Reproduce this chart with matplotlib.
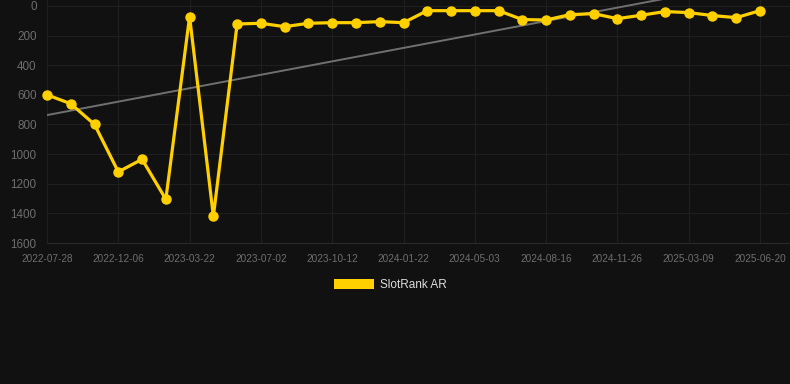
"""SlotRank AR rank history chart."""

import matplotlib

matplotlib.use("Agg")
import matplotlib.pyplot as plt
import numpy as np
from matplotlib.patches import Patch

TICK_LABELS = [
    "2022-07-28", "2022-12-06", "2023-03-22", "2023-07-02", "2023-10-12",
    "2024-01-22", "2024-05-03", "2024-08-16", "2024-11-26", "2025-03-09",
    "2025-06-20",
]
RANKS = [
    600, 660, 800, 1120, 1035, 1305, 72, 1420, 122, 117, 140,
    117, 113, 113, 106, 113, 32, 32, 32, 32, 92,
    95, 59, 52, 86, 63, 38, 45, 65, 79, 32,
]
SERIES_LABEL = "SlotRank AR"

BG = "#111111"
GRID = "#1f1f1f"
YELLOW = "#FFD000"
TREND = "#707070"
TICK_COLOR = "#6e6e6e"

plt.rcParams["font.family"] = ["Liberation Sans", "DejaVu Sans"]


def main():
    x = np.arange(len(RANKS))
    slope, intercept = np.polyfit(x, RANKS, 1)

    fig = plt.figure(figsize=(7.9, 3.84), dpi=100, facecolor=BG)
    ax = fig.add_axes([47 / 790, 1 - 243 / 384, 1 - 47 / 790, 243 / 384])
    ax.set_facecolor(BG)

    ax.plot(x, slope * x + intercept, color=TREND, linewidth=1.4, zorder=2)
    ax.plot(
        x, RANKS, color=YELLOW, linewidth=2.3, marker="o", markersize=6.5,
        solid_joinstyle="miter", zorder=3, clip_on=False,
    )

    ax.set_xlim(0, (790 - 47) / (713 / 30))
    ax.set_ylim(1600, -40)
    ax.set_yticks(range(0, 1601, 200))
    ax.set_xticks(range(0, len(RANKS), 3), TICK_LABELS)

    ax.grid(color=GRID, linewidth=0.8)
    for side, spine in ax.spines.items():
        spine.set_visible(side == "bottom")
    ax.spines["bottom"].set_color("#2a2a2a")
    ax.tick_params(axis="both", length=0, colors=TICK_COLOR)
    ax.tick_params(axis="x", labelsize=7.2, pad=8)
    ax.tick_params(axis="y", labelsize=8.4, pad=7.5)

    handle = Patch(facecolor=YELLOW, edgecolor="none")
    fig.legend(
        [handle], [SERIES_LABEL], loc="center", bbox_to_anchor=(0.494, 1 - 285 / 384),
        frameon=False, fontsize=8.5, labelcolor="#dddddd",
        handlelength=3.4, handleheight=1.0, handletextpad=0.5,
    )

    fig.savefig("out.png", dpi=100, facecolor=BG)
    plt.close(fig)


if __name__ == "__main__":
    main()
